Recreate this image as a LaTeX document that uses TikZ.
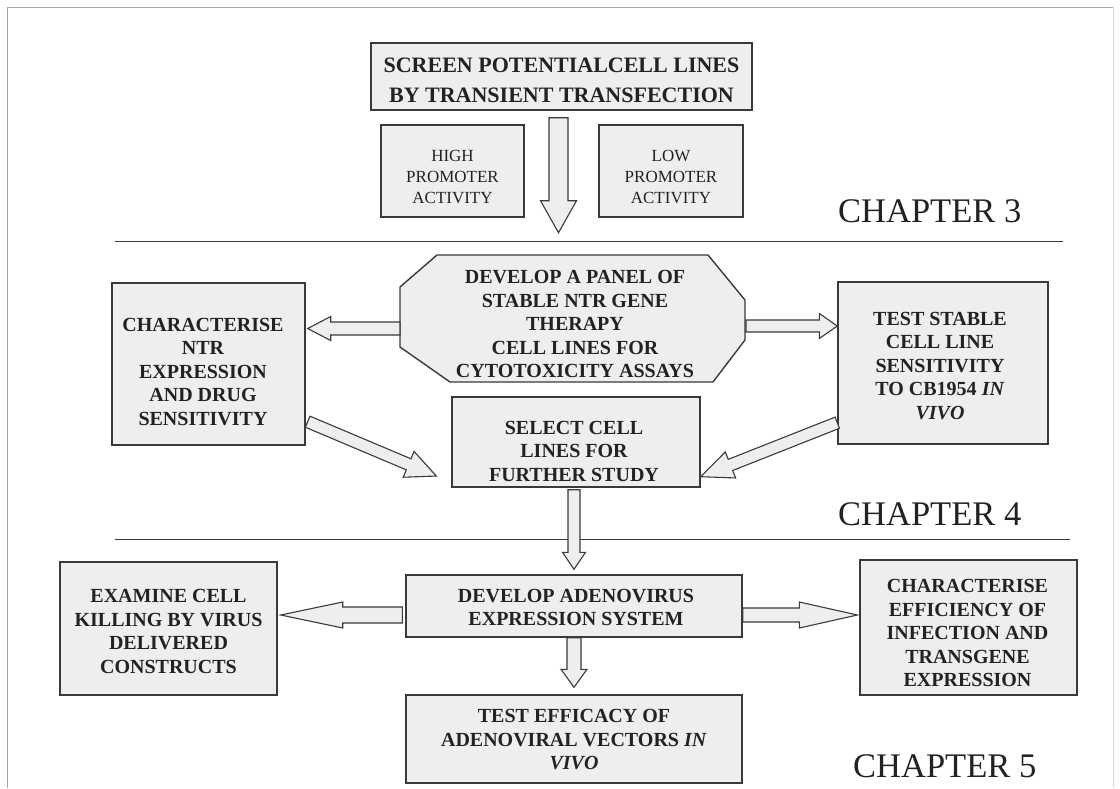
\documentclass[tikz,border=0pt]{standalone}
\usepackage{fontspec}
\setmainfont{Liberation Serif}
\usetikzlibrary{calc}
\definecolor{boxfill}{HTML}{EEEEEE}
\definecolor{linec}{HTML}{3A3A3A}
\definecolor{txt}{HTML}{222222}
\tikzset{
  bt/.style={font=\fontsize{20}{23.5}\selectfont\bfseries, align=center, text=txt, inner sep=0pt},
  tt/.style={font=\fontsize{22}{29.5}\selectfont\bfseries, align=center, text=txt, inner sep=0pt},
  rt/.style={font=\fontsize{17}{21}\selectfont, align=center, text=txt, inner sep=0pt},
  ch/.style={font=\fontsize{34.5}{40}\selectfont, text=txt, inner sep=0pt, anchor=base west},
  box/.style={draw=linec, line width=1.4pt, fill=boxfill, inner sep=0pt},
  arr/.style={draw=linec, line width=1.1pt, fill=boxfill, line join=miter},
  sep/.style={draw=linec, line width=1.1pt},
  frame/.style={draw=gray!70, line width=1pt},
}
% block arrow: #1 start, #2 tip, #3 shaft half width, #4 head half width, #5 head length
\newcommand\blockarr[5]{%
  \coordinate (bP) at ($(#2)!#5!(#1)$);
  \draw[arr] ($(#1)!#3!90:(#2)$) -- ($(bP)!#3!90:(#2)$) -- ($(bP)!#4!90:(#2)$) -- (#2)
     -- ($(bP)!#4!-90:(#2)$) -- ($(bP)!#3!-90:(#2)$) -- ($(#1)!#3!-90:(#2)$) -- cycle;
}
\begin{document}
\begin{tikzpicture}[x=1pt,y=-1pt]
\useasboundingbox (0,0) rectangle (1120,788);
\fill[white] (0,0) rectangle (1120,788);
% frame
\draw[frame] (7,788) -- (7,7) -- (1113,7);
\draw[draw=gray!30, line width=0.8pt] (1113,7) -- (1113,788);
% separators
\draw[sep] (115,241.5) -- (1063,241.5);
\draw[sep] (115,539.3) -- (1070,539.3);
% chapter labels
\node[ch] (ch3) at (838,222) {CHAPTER 3};
\node[ch] (ch4) at (838,525) {CHAPTER 4};
\node[ch] (ch5) at (853,777) {CHAPTER 5};
% boxes
\node[box, minimum width=381, minimum height=67] (title) at (561.5,76.5) {};
\node[tt] at (561.5,80.5) {SCREEN POTENTIALCELL LINES\\BY TRANSIENT TRANSFECTION};
\node[box, minimum width=143, minimum height=92] (high) at (452.5,171) {};
\node[rt] at (452.5,177) {HIGH\\PROMOTER\\ACTIVITY};
\node[box, minimum width=144, minimum height=92] (low) at (671,171) {};
\node[rt] at (671,177) {LOW\\PROMOTER\\ACTIVITY};
% octagon
\coordinate (o1) at (437,255); \coordinate (o2) at (708,255);
\coordinate (o3) at (745,300); \coordinate (o4) at (745,340);
\coordinate (o5) at (713,382); \coordinate (o6) at (450,382);
\coordinate (o7) at (400,347); \coordinate (o8) at (400,287);
\draw[box] (o1) -- (o2) -- (o3) -- (o4) -- (o5) -- (o6) -- (o7) -- (o8) -- cycle;
\node[bt] (oct) at (575,324) {DEVELOP A PANEL OF\\STABLE NTR GENE\\THERAPY\\CELL LINES FOR\\CYTOTOXICITY ASSAYS};
\coordinate (octL) at (400,328.5);
\coordinate (octR) at (746,326);
\node[box, minimum width=193, minimum height=162] (charA) at (208.5,364) {};
\node[bt] at (203,371.7) {CHARACTERISE\\NTR\\EXPRESSION\\AND DRUG\\SENSITIVITY};
\node[box, minimum width=210, minimum height=162] (testS) at (943,363) {};
\node[bt] at (940,366) {TEST STABLE\\CELL LINE\\SENSITIVITY\\TO CB1954 \textit{IN}\\\textit{VIVO}};
\node[box, minimum width=248, minimum height=90] (select) at (576,442) {};
\node[bt] at (574,451) {SELECT CELL\\LINES FOR\\FURTHER STUDY};
\node[box, minimum width=217, minimum height=133] (exam) at (168.5,628.5) {};
\node[bt] at (168.5,631.5) {EXAMINE CELL\\KILLING BY VIRUS\\DELIVERED\\CONSTRUCTS};
\node[box, minimum width=336, minimum height=62] (devA) at (574,606) {};
\node[bt] at (576,607.3) {DEVELOP ADENOVIRUS\\EXPRESSION SYSTEM};
\node[box, minimum width=217, minimum height=135] (charE) at (968.5,627.5) {};
\node[bt] at (967.5,633) {CHARACTERISE\\EFFICIENCY OF\\INFECTION AND\\TRANSGENE\\EXPRESSION};
\node[box, minimum width=336, minimum height=88] (testE) at (574,739) {};
\node[bt] at (574,740) {TEST EFFICACY OF\\ADENOVIRAL VECTORS \textit{IN}\\\textit{VIVO}};
% arrow end points
\coordinate (a1s) at ($(title.south)+(-3,7)$);
\coordinate (a1t) at ($(a1s)+(0,115)$);
\coordinate (a2t) at ($(charA.east)+(2,-35.5)$);
\coordinate (a3t) at ($(testS.west)+(0,-37)$);
\coordinate (a4s) at ($(charA.south east)+(2,-24)$);
\coordinate (a4t) at ($(select.west)+(-15,34)$);
\coordinate (a5s) at ($(testS.south west)+(0,-22)$);
\coordinate (a5t) at ($(select.south east)+(0,-11)$);
\coordinate (a6s) at ($(select.south)+(-2,2)$);
\coordinate (a6t) at ($(devA.north)+(0,-5)$);
\coordinate (a7s) at ($(devA.west)+(-3,9)$);
\coordinate (a7t) at ($(exam.east)+(3,-13.5)$);
\coordinate (a8s) at ($(devA.east)+(0,9)$);
\coordinate (a8t) at ($(charE.west)+(-2,-12.5)$);
\coordinate (a9s) at (devA.south);
\coordinate (a9t) at ($(testE.north)+(0,-7)$);
% arrows
\blockarr{a1s}{a1t}{9.5pt}{18pt}{32pt}
\blockarr{octL}{a2t}{6.5pt}{12pt}{23pt}
\blockarr{octR}{a3t}{6pt}{12.5pt}{18pt}
\blockarr{a4s}{a4t}{6pt}{14pt}{30pt}
\blockarr{a5s}{a5t}{6pt}{14pt}{32pt}
\blockarr{a6s}{a6t}{6pt}{11.5pt}{17pt}
\blockarr{a7s}{a7t}{8pt}{13pt}{62pt}
\blockarr{a8s}{a8t}{7pt}{13pt}{58pt}
\blockarr{a9s}{a9t}{7pt}{13pt}{18pt}
\end{tikzpicture}
\end{document}
